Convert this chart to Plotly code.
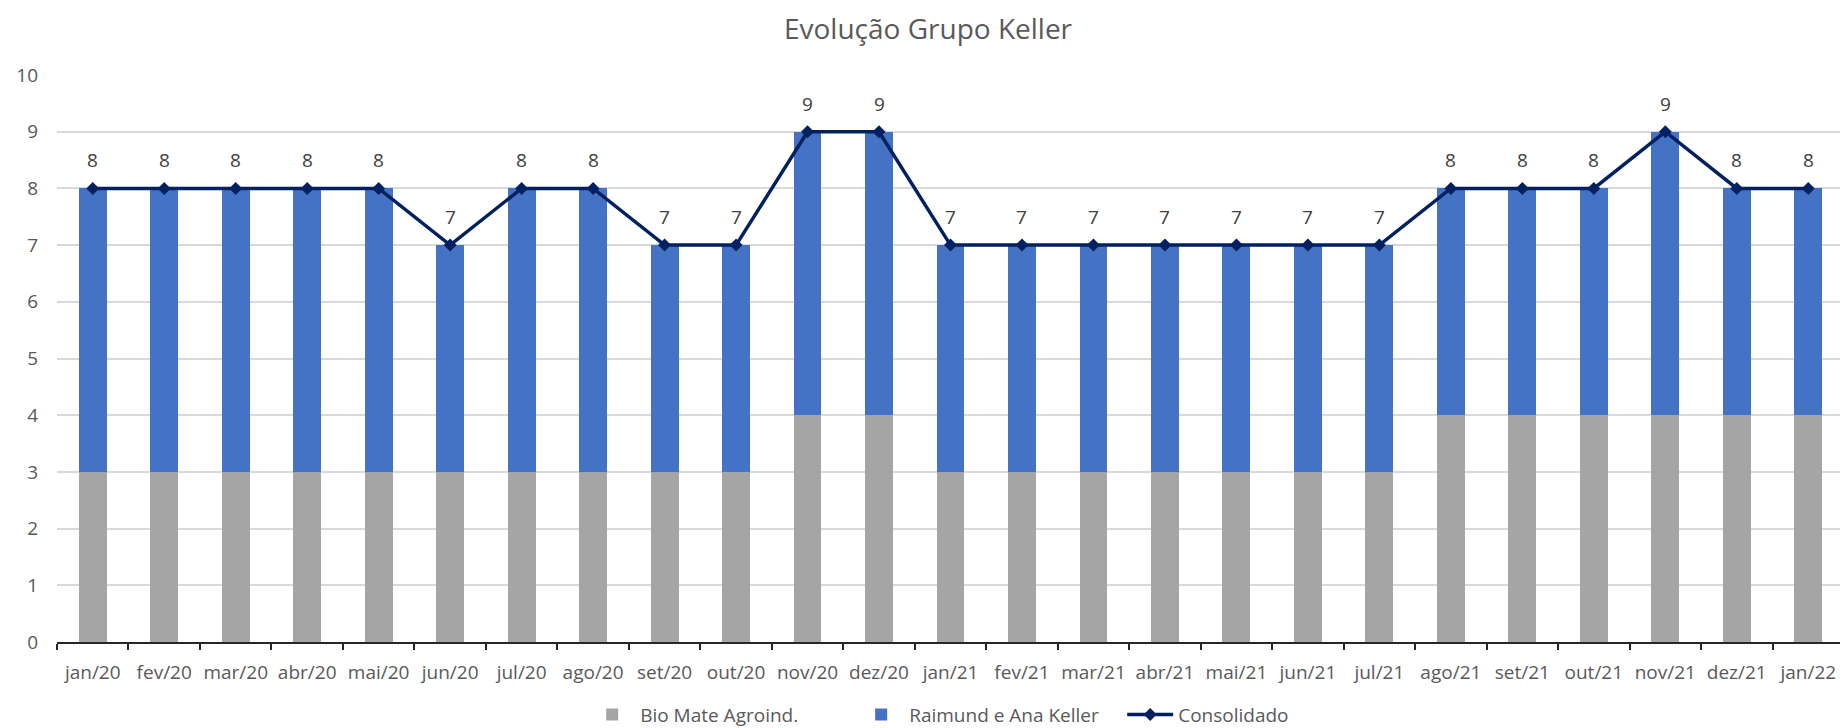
import plotly.graph_objects as go

months = ["jan/20", "fev/20", "mar/20", "abr/20", "mai/20", "jun/20", "jul/20", "ago/20",
          "set/20", "out/20", "nov/20", "dez/20", "jan/21", "fev/21", "mar/21", "abr/21",
          "mai/21", "jun/21", "jul/21", "ago/21", "set/21", "out/21", "nov/21", "dez/21", "jan/22"]
bio_mate = [3, 3, 3, 3, 3, 3, 3, 3, 3, 3, 4, 4, 3, 3, 3, 3, 3, 3, 3, 4, 4, 4, 4, 4, 4]
raimund = [5, 5, 5, 5, 5, 4, 5, 5, 4, 4, 5, 5, 4, 4, 4, 4, 4, 4, 4, 4, 4, 4, 5, 4, 4]
consolidado = [8, 8, 8, 8, 8, 7, 8, 8, 7, 7, 9, 9, 7, 7, 7, 7, 7, 7, 7, 8, 8, 8, 9, 8, 8]

FONT = "Open Sans"
TXT = "#595959"

fig = go.Figure()
fig.add_trace(go.Bar(x=months, y=bio_mate, name="Bio Mate Agroind.",
                     marker=dict(color="#A5A5A5", line=dict(width=0))))
fig.add_trace(go.Bar(x=months, y=raimund, name="Raimund e Ana Keller",
                     marker=dict(color="#4472C4", line=dict(width=0))))
fig.add_trace(go.Scatter(x=months, y=consolidado, name="Consolidado", mode="lines+markers",
                         line=dict(color="#002060", width=3.5),
                         marker=dict(symbol="diamond", size=10, color="#002060")))

for m, v in zip(months, consolidado):
    fig.add_annotation(x=m, y=v, text=str(v), showarrow=False, yshift=28,
                       font=dict(family=FONT, size=19, color="#404040"))

fig.update_layout(
    width=1840, height=720,
    barmode="stack", bargap=0.61,
    plot_bgcolor="white", paper_bgcolor="white",
    margin=dict(l=49, r=4, t=67, b=86, autoexpand=False),
    font=dict(family=FONT, size=19, color=TXT),
    title=dict(text="Evolução Grupo Keller", x=0.5, xanchor="center", xref="container",
               y=0.97, yanchor="middle", yref="container",
               font=dict(family=FONT, size=28, color=TXT)),
    legend=dict(orientation="h", x=0.295, xanchor="left", y=-0.128, yanchor="middle",
                yref="paper", font=dict(family=FONT, size=19, color=TXT),
                traceorder="normal", itemwidth=46, entrywidth=208),
    showlegend=True,
)
fig.update_xaxes(range=[-0.5, len(months) - 0.5], showline=True, linecolor="#262626",
                 linewidth=1.5, ticks="outside",
                 tickson="boundaries", ticklen=6, tickcolor="#262626", tickwidth=1.5,
                 showgrid=False, tickfont=dict(family=FONT, size=19, color=TXT),
                 tickangle=0, automargin=False, ticklabelstandoff=12)
fig.update_yaxes(range=[0, 10], dtick=1, showgrid=True, gridcolor="#D9D9D9", gridwidth=1.5,
                 zeroline=False, showline=False, ticks="", automargin=False,
                 tickfont=dict(family=FONT, size=19, color=TXT), ticklabelstandoff=18)

fig.write_html("out.html")
